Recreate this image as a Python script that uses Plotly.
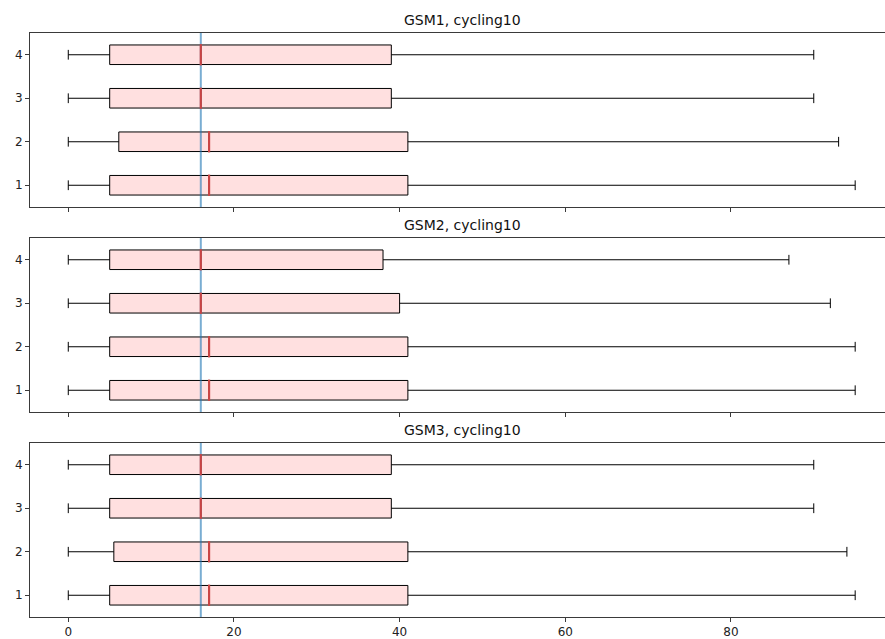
import plotly.graph_objects as go

# Box statistics per run (positions 1..4), one block per dataset
titles = ["GSM1, cycling10", "GSM2, cycling10", "GSM3, cycling10"]
positions = [1, 2, 3, 4]

gsm1_low = [0, 0, 0, 0]
gsm1_q1 = [5, 6.1, 5, 5]
gsm1_med = [17, 17, 16, 16]
gsm1_q3 = [41, 41, 39, 39]
gsm1_high = [95, 93, 90, 90]

gsm2_low = [0, 0, 0, 0]
gsm2_q1 = [5, 5, 5, 5]
gsm2_med = [17, 17, 16, 16]
gsm2_q3 = [41, 41, 40, 38]
gsm2_high = [95, 95, 92, 87]

gsm3_low = [0, 0, 0, 0]
gsm3_q1 = [5, 5.5, 5, 5]
gsm3_med = [17, 17, 16, 16]
gsm3_q3 = [41, 41, 39, 39]
gsm3_high = [95, 94, 90, 90]

reference_x = 16
x_ticks = [0, 20, 40, 60, 80]

stats = [
    (gsm1_low, gsm1_q1, gsm1_med, gsm1_q3, gsm1_high),
    (gsm2_low, gsm2_q1, gsm2_med, gsm2_q3, gsm2_high),
    (gsm3_low, gsm3_q1, gsm3_med, gsm3_q3, gsm3_high),
]

W, H = 885, 639
box_width = 0.45
font_family = "DejaVu Sans"
spine = "#3a3a3a"

# pixel rows (top, bottom) of each panel
panels_px = [(33, 207), (238, 412), (443, 617)]

fig = go.Figure()
layout = dict(
    width=W, height=H,
    margin=dict(l=30, r=0, t=0, b=0),
    paper_bgcolor="white", plot_bgcolor="white",
    showlegend=False,
    font=dict(family=font_family, size=12, color="#222"),
    annotations=[],
    shapes=[],
)

x_range = [-4.62, 98.6]

for i, (low, q1, med, q3, high) in enumerate(stats):
    n = i + 1
    xa = "x" if n == 1 else f"x{n}"
    ya = "y" if n == 1 else f"y{n}"
    top, bot = panels_px[i]
    dom = [1 - bot / H, 1 - top / H]

    fig.add_trace(go.Box(
        orientation="h",
        y=positions,
        q1=q1, median=med, q3=q3,
        lowerfence=low, upperfence=high,
        width=box_width,
        whiskerwidth=0.5,
        fillcolor="#ffe0e0",
        line=dict(color="black", width=1),
        boxpoints=False,
        hoverinfo="skip",
        xaxis=xa, yaxis=ya,
    ))

    # reference vertical line across the panel
    fig.add_trace(go.Scatter(
        x=[reference_x, reference_x], y=[0.5, 4.5],
        mode="lines", line=dict(color="rgba(31,119,180,0.6)", width=2),
        hoverinfo="skip", xaxis=xa, yaxis=ya,
    ))

    # red median markers
    for p, m in zip(positions, med):
        fig.add_trace(go.Scatter(
            x=[m, m], y=[p - box_width / 2 - 0.02, p + box_width / 2 + 0.02],
            mode="lines", line=dict(color="#c94444", width=2.2),
            hoverinfo="skip", xaxis=xa, yaxis=ya,
        ))

    xkey = "xaxis" if n == 1 else f"xaxis{n}"
    ykey = "yaxis" if n == 1 else f"yaxis{n}"
    layout[xkey] = dict(
        domain=[0, 1], anchor=ya, range=x_range,
        tickvals=x_ticks, showticklabels=(n == 3),
        ticks="outside", ticklen=4, tickwidth=1, tickcolor=spine,
        showline=True, linecolor=spine, linewidth=1, mirror=True,
        showgrid=False, zeroline=False,
        tickfont=dict(family=font_family, size=12, color="#222"),
        automargin=False,
    )
    layout[ykey] = dict(
        domain=dom, anchor=xa, range=[0.5, 4.5],
        tickvals=positions,
        ticks="outside", ticklen=4, tickwidth=1, tickcolor=spine,
        showline=True, linecolor=spine, linewidth=1, mirror=False,
        showgrid=False, zeroline=False,
        tickfont=dict(family=font_family, size=12, color="#222"),
        automargin=False,
    )
    layout["annotations"].append(dict(
        text=titles[i], xref="paper", yref="paper",
        x=(462 - 30) / (W - 30), y=1 - (top - 13) / H,
        xanchor="center", yanchor="middle", showarrow=False,
        font=dict(family=font_family, size=14, color="#111"),
    ))

fig.update_layout(**layout)
fig.write_html("out.html")
